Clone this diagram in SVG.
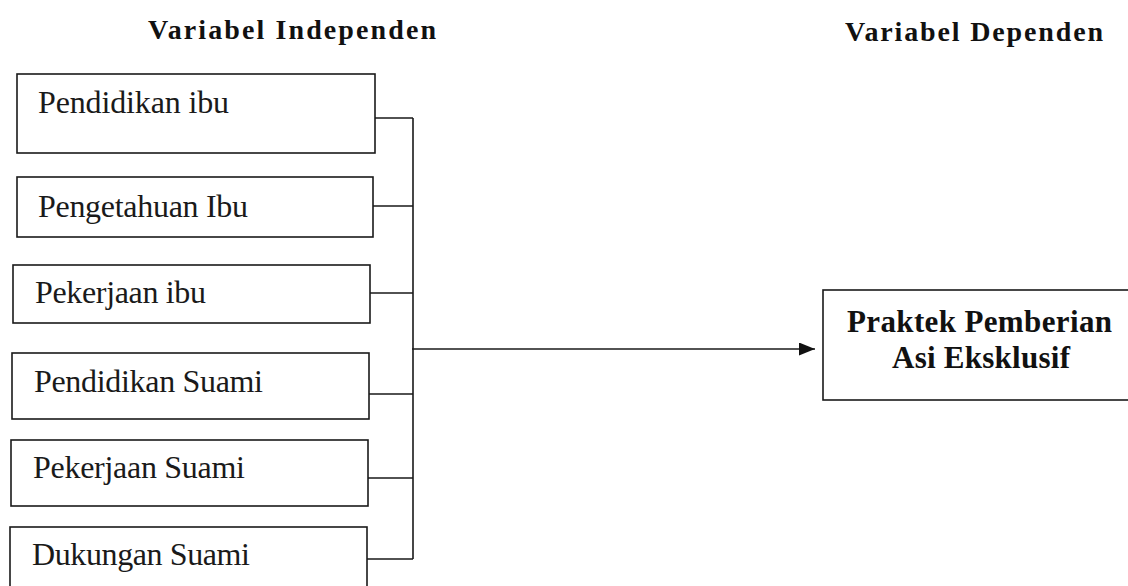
<svg xmlns="http://www.w3.org/2000/svg" width="1128" height="586" viewBox="0 0 1128 586">
<style>
.box{fill:none;stroke:#1a1a1a;stroke-width:1.6}
.lbl{font-family:"Liberation Serif","Times New Roman",serif;font-size:32px;fill:#1a1a1a}
.ttl{font-family:"Liberation Serif","Times New Roman",serif;font-size:28px;font-weight:bold;fill:#111}
.dep{font-family:"Liberation Serif","Times New Roman",serif;font-size:31px;font-weight:bold;fill:#111}
.con{fill:none;stroke:#1a1a1a;stroke-width:1.6}
</style>
<defs>
<marker id="arr" markerWidth="16" markerHeight="13" refX="16" refY="6.5" orient="auto" markerUnits="userSpaceOnUse" viewBox="0 0 16 13">
<path d="M0,0 L16,6.5 L0,13 Z" fill="#111"/>
</marker>
</defs>
<rect width="1128" height="586" fill="#ffffff"/>
<text class="ttl" x="148" y="39" textLength="288" lengthAdjust="spacing">Variabel Independen</text>
<text class="ttl" x="845" y="41" textLength="258" lengthAdjust="spacing">Variabel Dependen</text>
<g id="n1"><rect class="box" x="17" y="74" width="358" height="79"/><text class="lbl" x="38" y="113" textLength="191" lengthAdjust="spacing">Pendidikan ibu</text></g>
<g id="n2"><rect class="box" x="17" y="177" width="356" height="60"/><text class="lbl" x="38" y="217" textLength="210" lengthAdjust="spacing">Pengetahuan Ibu</text></g>
<g id="n3"><rect class="box" x="13" y="265" width="357" height="58"/><text class="lbl" x="35" y="303" textLength="171" lengthAdjust="spacing">Pekerjaan ibu</text></g>
<g id="n4"><rect class="box" x="12" y="353" width="357" height="66"/><text class="lbl" x="34" y="392" textLength="229" lengthAdjust="spacing">Pendidikan Suami</text></g>
<g id="n5"><rect class="box" x="11" y="440" width="357" height="66"/><text class="lbl" x="33" y="478" textLength="212" lengthAdjust="spacing">Pekerjaan Suami</text></g>
<g id="n6"><rect class="box" x="10" y="527" width="357" height="80"/><text class="lbl" x="32" y="565" textLength="218" lengthAdjust="spacing">Dukungan Suami</text></g>
<g id="dep"><rect class="box" x="823" y="290" width="320" height="110"/><text class="dep" x="847" y="332" textLength="265" lengthAdjust="spacing">Praktek Pemberian</text><text class="dep" x="892" y="368" textLength="178" lengthAdjust="spacing">Asi Eksklusif</text></g>
<g id="connectors">
<path class="con" d="M375,118 H413 M373,206 H413 M370,293 H413 M369,394 H413 M368,478 H413 M367,559 H413 M413,118 V559"/>
<path class="con" d="M412,349 H815" marker-end="url(#arr)"/>
</g>
</svg>
